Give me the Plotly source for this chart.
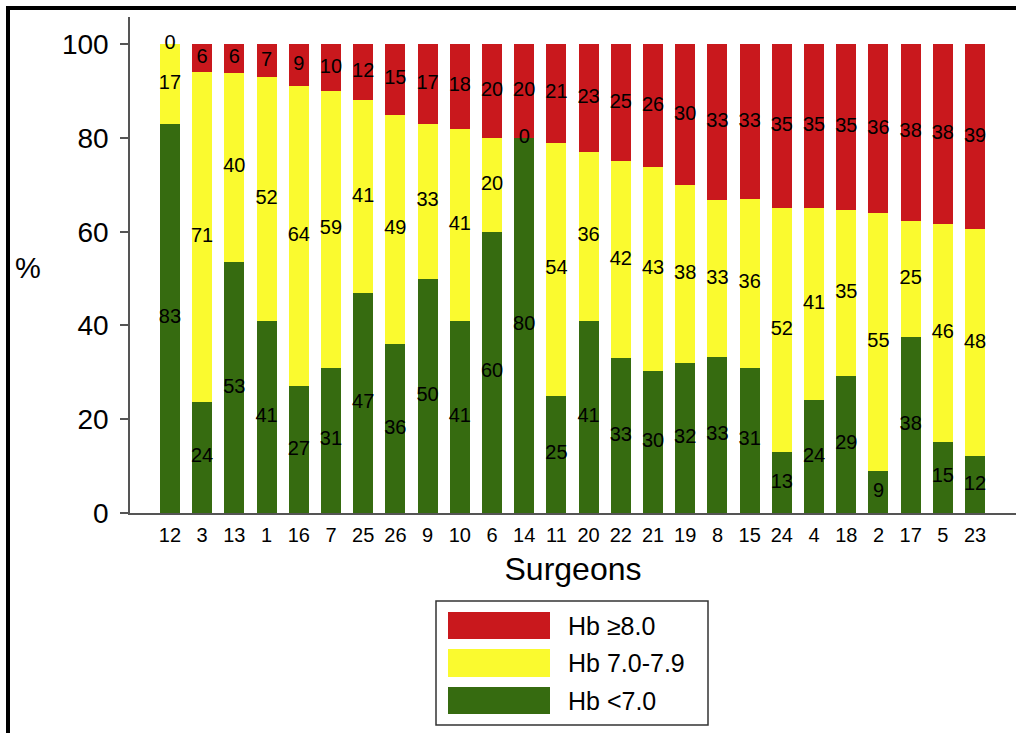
import numpy as np
import plotly.graph_objects as go

surgeons = ["12", "3", "13", "1", "16", "7", "25", "26", "9", "10", "6", "14", "11",
            "20", "22", "21", "19", "8", "15", "24", "4", "18", "2", "17", "5", "23"]
hb_lt7 = [83, 24, 53, 41, 27, 31, 47, 36, 50, 41, 60, 80, 25, 41, 33, 30, 32, 33, 31, 13, 24, 29, 9, 38, 15, 12]
hb_7_79 = [17, 71, 40, 52, 64, 59, 41, 49, 33, 41, 20, 0, 54, 36, 42, 43, 38, 33, 36, 52, 41, 35, 55, 25, 46, 48]
hb_ge8 = [0, 6, 6, 7, 9, 10, 12, 15, 17, 18, 20, 20, 21, 23, 25, 26, 30, 33, 33, 35, 35, 35, 36, 38, 38, 39]
y_ticks = [0, 20, 40, 60, 80, 100]

RED = "#C9181D"
YELLOW = "#FAFA2F"
GREEN = "#366B10"
FONT = "Liberation Sans, Arial, Helvetica, sans-serif"

W, H = 1016, 733
L, R, T, B = 130, 0, 17, 220
PW, PH = W - L - R, H - T - B


def px(x):
    return (x - L) / PW


def py(y):
    return (H - B - y) / PH


fig = go.Figure()
series = [("Hb <7.0", hb_lt7, GREEN), ("Hb 7.0-7.9", hb_7_79, YELLOW), ("Hb \u22658.0", hb_ge8, RED)]
for name, vals, col in series:
    fig.add_trace(go.Bar(x=surgeons, y=vals, name=name, marker=dict(color=col, line=dict(width=0)),
                         showlegend=False))

# label positions: middle of each (normalised) segment
g = np.array(hb_lt7, float)
yy = np.array(hb_7_79, float)
r = np.array(hb_ge8, float)
tot = g + yy + r
gn, yn, rn = g / tot * 100, yy / tot * 100, r / tot * 100
mids = [gn / 2, gn + yn / 2, gn + yn + rn / 2]
for (name, vals, col), m in zip(series, mids):
    fig.add_trace(go.Scatter(x=surgeons, y=m, mode="text", text=[str(v) for v in vals],
                             textfont=dict(family=FONT, size=20, color="black"),
                             showlegend=False, hoverinfo="skip"))

shapes = []
# outer frame (top and left thick black lines)
shapes.append(dict(type="line", xref="paper", yref="paper", x0=px(6), x1=px(W), y0=py(8), y1=py(8),
                   line=dict(color="black", width=4)))
shapes.append(dict(type="line", xref="paper", yref="paper", x0=px(8), x1=px(8), y0=py(6), y1=py(H),
                   line=dict(color="black", width=4)))
# legend box
shapes.append(dict(type="rect", xref="paper", yref="paper", x0=px(436), x1=px(708), y0=py(601), y1=py(725),
                   line=dict(color="#333333", width=1.5), fillcolor="white"))
leg = [("Hb \u22658.0", RED, 612, 639), ("Hb 7.0-7.9", YELLOW, 649, 677), ("Hb <7.0", GREEN, 687, 714)]
annotations = []
for name, col, y0, y1 in leg:
    shapes.append(dict(type="rect", xref="paper", yref="paper", x0=px(448), x1=px(550), y0=py(y0), y1=py(y1),
                       line=dict(width=0), fillcolor=col))
    annotations.append(dict(xref="paper", yref="paper", x=px(566), y=py((y0 + y1) / 2), text=name,
                            showarrow=False, xanchor="left", yanchor="middle",
                            font=dict(family=FONT, size=25, color="black")))
annotations.append(dict(xref="paper", yref="paper", x=px(28), y=py(268), text="%", showarrow=False,
                        xanchor="center", yanchor="middle", font=dict(family=FONT, size=29, color="black")))

fig.update_layout(
    width=W, height=H, margin=dict(l=L, r=R, t=T, b=B),
    barmode="stack", barnorm="percent", bargap=0.38,
    paper_bgcolor="white", plot_bgcolor="white",
    font=dict(family=FONT, color="black"),
    shapes=shapes, annotations=annotations,
    xaxis=dict(type="category", range=[-1.24, 26.27], showline=True, linecolor="#555555", linewidth=2,
               ticks="", showgrid=False, zeroline=False, tickfont=dict(size=20, color="black"),
               ticklabelstandoff=3,
               title=dict(text="Surgeons", font=dict(size=32, color="black"), standoff=13)),
    yaxis=dict(range=[0, 105.8], tickvals=y_ticks, showline=True, linecolor="#555555", linewidth=1.5,
               ticks="outside", ticklen=8, tickcolor="#555555", tickwidth=1.5, showgrid=False,
               zeroline=False, tickfont=dict(size=28, color="black"), ticklabelstandoff=6),
)

fig.write_html("out.html", config={"displayModeBar": False},
               post_script="document.body.style.margin='0px';")
